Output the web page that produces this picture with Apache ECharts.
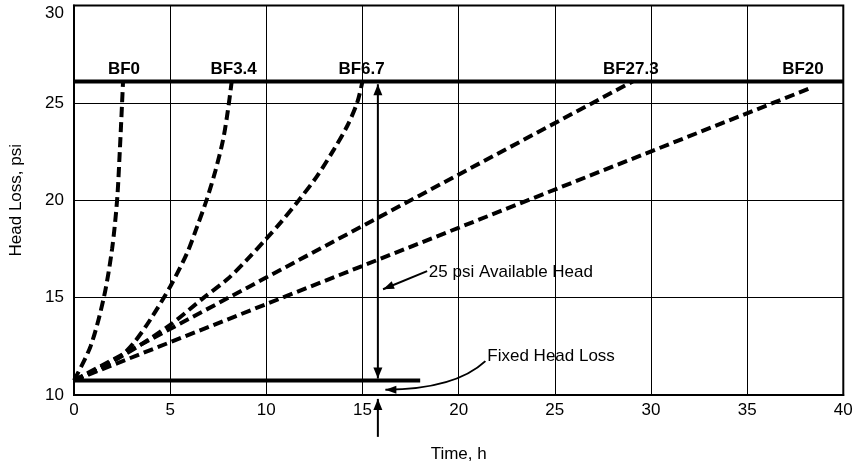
<!DOCTYPE html>
<html><head><meta charset="utf-8">
<script src="https://cdn.jsdelivr.net/npm/echarts@6/dist/echarts.min.js"></script>
<style>html,body{margin:0;padding:0;background:#fff}#c{width:860px;height:468px}</style>
</head><body><div id="c"></div>
<script>
// ---- data ----
const xTickLabels = [0, 5, 10, 15, 20, 25, 30, 35, 40];
const yTickLabels = [10, 15, 20, 25, 30];
const seriesNames = ['BF0', 'BF3.4', 'BF6.7', 'BF27.3', 'BF20'];
const bf0Time  = [0, 0.86, 1.55, 1.98, 2.24, 2.38, 2.5, 2.55];
const bf0Head  = [10.75, 12.5, 15, 17.5, 20, 22.5, 25, 26.1];
const bf34Time = [0, 1.2, 2.43, 3.12, 3.98, 5.02, 5.89, 6.41, 6.89, 7.35, 7.75, 8.0, 8.2];
const bf34Head = [10.75, 11.3, 12.0, 12.69, 13.89, 15.6, 17.31, 18.67, 20, 21.5, 23.1, 24.6, 26.1];
const bf67Time = [0, 2.5, 5.0, 6.75, 7.97, 9.01, 10.05, 10.74, 11.69, 12.64, 13.51, 14.2, 14.72, 15.0];
const bf67Head = [10.75, 12.0, 13.6, 15, 15.94, 16.96, 18.08, 18.85, 20, 21.24, 22.6, 23.8, 25, 26.1];
const bf273Time = [0, 29.05];
const bf273Head = [10.75, 26.1];
const bf20Time = [0, 38.4];
const bf20Head = [10.75, 25.8];
const labelTime = [2.6, 8.3, 14.95, 28.95, 37.9];
const labelHead = [26.72, 26.72, 26.72, 26.72, 26.72];
const availableHeadLevel = 26.1;
const fixedHeadLoss = 10.75;
const fixedLineEnd = 18;
const arrowTime = 15.8;

const pairs = (xs, ys) => xs.map((x, i) => [x, ys[i]]);
const dashStyle = { color: '#000', width: 4, type: [10, 5] };
const FONT = 'Liberation Sans, Arial, Helvetica, sans-serif';

const chart = echarts.init(document.getElementById('c'), null, { renderer: 'canvas' });
const option = {
  animation: false,
  backgroundColor: '#fff',
  grid: { left: 73.3, right: 16.7, top: 5.5, bottom: 72.2, show: true, borderColor: '#000', borderWidth: 2, backgroundColor: 'transparent' },
  xAxis: {
    type: 'value', min: 0, max: 40, interval: 5,
    name: 'Time, h', nameLocation: 'middle', nameGap: 51,
    nameTextStyle: { fontFamily: FONT, fontSize: 17, color: '#000' },
    axisLine: { show: true, lineStyle: { color: '#000', width: 2 } },
    axisTick: { show: false },
    axisLabel: { fontFamily: FONT, fontSize: 17, color: '#000', margin: 7,
      formatter: v => xTickLabels.includes(v) ? String(v) : '' },
    splitLine: { show: true, lineStyle: { color: '#000', width: 1 } }
  },
  yAxis: {
    type: 'value', min: 10, max: 30, interval: 5,
    name: 'Head Loss, psi', nameLocation: 'middle', nameGap: 49,
    nameTextStyle: { fontFamily: FONT, fontSize: 17, color: '#000' },
    axisLine: { show: true, lineStyle: { color: '#000', width: 2 } },
    axisTick: { show: false },
    axisLabel: { fontFamily: FONT, fontSize: 17, color: '#000', margin: 10,
      formatter: v => v === 30 ? '{t|30}' : (yTickLabels.includes(v) ? String(v) : ''),
      rich: { t: { fontFamily: FONT, fontSize: 17, color: '#000', padding: [15, 0, 0, 0] } } },
    splitLine: { show: true, lineStyle: { color: '#000', width: 1 } }
  },
  series: [
    { type: 'line', name: 'avail', data: [[0, availableHeadLevel], [40, availableHeadLevel]], symbol: 'none',
      lineStyle: { color: '#000', width: 4 }, z: 3 },
    { type: 'line', name: 'fixed', data: [[0, fixedHeadLoss], [fixedLineEnd, fixedHeadLoss]], symbol: 'none',
      lineStyle: { color: '#000', width: 4 }, z: 3 },
    { type: 'line', name: seriesNames[0], data: pairs(bf0Time, bf0Head), symbol: 'none', smooth: 0.3, lineStyle: dashStyle, z: 4 },
    { type: 'line', name: seriesNames[1], data: pairs(bf34Time, bf34Head), symbol: 'none', smooth: 0.3, lineStyle: dashStyle, z: 4 },
    { type: 'line', name: seriesNames[2], data: pairs(bf67Time, bf67Head), symbol: 'none', smooth: 0.3, lineStyle: dashStyle, z: 4 },
    { type: 'line', name: seriesNames[3], data: pairs(bf273Time, bf273Head), symbol: 'none', lineStyle: dashStyle, z: 4 },
    { type: 'line', name: seriesNames[4], data: pairs(bf20Time, bf20Head), symbol: 'none', lineStyle: dashStyle, z: 4 }
  ]
};
chart.setOption(option);

// ---- annotations in data coordinates ----
const P = (x, y) => chart.convertToPixel({ gridIndex: 0 }, [x, y]);
function head(tip, from, len = 11, w = 4.5) {
  const dx = tip[0] - from[0], dy = tip[1] - from[1];
  const L = Math.hypot(dx, dy), ux = dx / L, uy = dy / L;
  const bx = tip[0] - ux * len, by = tip[1] - uy * len;
  return { type: 'polygon', shape: { points: [tip, [bx - uy * w, by + ux * w], [bx + uy * w, by - ux * w]] },
    style: { fill: '#000' }, z: 10 };
}
function seg(a, b, w = 2) {
  return { type: 'line', shape: { x1: a[0], y1: a[1], x2: b[0], y2: b[1] }, style: { stroke: '#000', lineWidth: w }, z: 10 };
}
const els = [];
seriesNames.forEach((n, i) => {
  const p = P(labelTime[i], labelHead[i]);
  els.push({ type: 'text', x: p[0], y: p[1], style: { text: n, font: 'bold 17px ' + FONT, fill: '#000', align: 'center', verticalAlign: 'middle' }, z: 10 });
});
const topTip = P(arrowTime, 25.95), botTip = P(arrowTime, 10.85);
els.push(seg(topTip, botTip, 2));
els.push(head(topTip, botTip));
els.push(head(botTip, topTip));
const lowStart = P(arrowTime, 7.85), lowTip = P(arrowTime, 9.8);
els.push(seg(lowStart, lowTip, 2));
els.push(head(lowTip, lowStart));
const aStart = P(18.36, 16.36), aTip = P(16.07, 15.43);
els.push(seg(aStart, aTip, 2));
els.push(head(aTip, aStart, 11, 4));
const t1 = P(18.45, 16.3);
els.push({ type: 'text', x: t1[0], y: t1[1], style: { text: '25 psi Available Head', font: '17px ' + FONT, fill: '#000', verticalAlign: 'middle', align: 'left' }, z: 10 });
const fStart = P(21.39, 11.74), fCtrl = P(19.83, 10.3), fTip = P(16.19, 10.27);
els.push({ type: 'bezierCurve', shape: { x1: fStart[0], y1: fStart[1], x2: fTip[0], y2: fTip[1], cpx1: fCtrl[0], cpy1: fCtrl[1] },
  style: { stroke: '#000', lineWidth: 2, fill: null }, z: 10 });
els.push(head(fTip, fCtrl, 11, 4));
const t2 = P(21.49, 11.99);
els.push({ type: 'text', x: t2[0], y: t2[1], style: { text: 'Fixed Head Loss', font: '17px ' + FONT, fill: '#000', verticalAlign: 'middle', align: 'left' }, z: 10 });
chart.setOption({ graphic: { elements: els } });
</script></body></html>
